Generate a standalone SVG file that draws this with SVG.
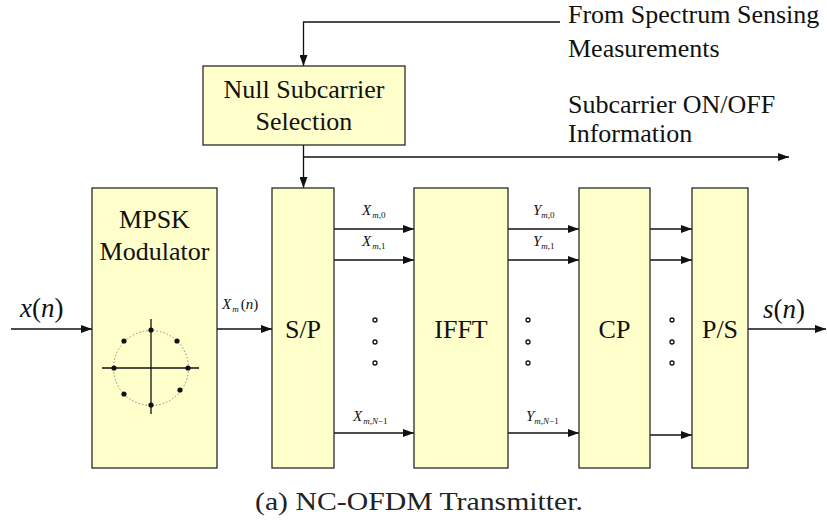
<svg xmlns="http://www.w3.org/2000/svg" width="827" height="529" viewBox="0 0 827 529">
<style>
.box{fill:#FFFFCC;stroke:#2a2a2a;stroke-width:1.3}
.sh{fill:none;stroke:#9a9a9a;stroke-width:1.2}
.t{font-family:"Liberation Serif","Times New Roman",serif;font-size:26px;fill:#111}
.c{text-anchor:middle}
.m{font-family:"Liberation Serif","Times New Roman",serif;font-style:italic;fill:#111}
.ln{fill:none;stroke:#111;stroke-width:1.3}
.dot{fill:#fff;stroke:#111;stroke-width:1.3}
.cap{font-family:"Liberation Serif","Times New Roman",serif;font-size:26px;fill:#222}
</style>
<defs>
<marker id="ah" markerUnits="userSpaceOnUse" markerWidth="12" markerHeight="8" refX="11" refY="4" orient="auto">
<path d="M0,0 L11,4 L0,8 z" fill="#111"/>
</marker>
</defs>

<g id="connectors">
<polyline class="ln" points="560,22 303.5,22 303.5,66" marker-end="url(#ah)"/>
<line class="ln" x1="303.5" y1="145" x2="303.5" y2="188" marker-end="url(#ah)"/>
<line class="ln" x1="303.5" y1="157" x2="789" y2="157" marker-end="url(#ah)"/>
<line class="ln" x1="11" y1="329" x2="92" y2="329" marker-end="url(#ah)"/>
<line class="ln" x1="217" y1="329" x2="272" y2="329" marker-end="url(#ah)"/>
<line class="ln" x1="334" y1="229" x2="414" y2="229" marker-end="url(#ah)"/>
<line class="ln" x1="334" y1="260" x2="414" y2="260" marker-end="url(#ah)"/>
<line class="ln" x1="334" y1="433" x2="414" y2="433" marker-end="url(#ah)"/>
<line class="ln" x1="508" y1="229" x2="579" y2="229" marker-end="url(#ah)"/>
<line class="ln" x1="508" y1="260" x2="579" y2="260" marker-end="url(#ah)"/>
<line class="ln" x1="508" y1="433" x2="579" y2="433" marker-end="url(#ah)"/>
<line class="ln" x1="650" y1="229" x2="692" y2="229" marker-end="url(#ah)"/>
<line class="ln" x1="650" y1="260" x2="692" y2="260" marker-end="url(#ah)"/>
<line class="ln" x1="650" y1="435" x2="692" y2="435" marker-end="url(#ah)"/>
<line class="ln" x1="748" y1="329" x2="826" y2="329" marker-end="url(#ah)"/>
</g>

<g id="null-subcarrier">
<rect class="box" x="203" y="66" width="202" height="79"/>
<text class="t c" x="304" y="98">Null Subcarrier</text>
<text class="t c" x="304" y="130">Selection</text>
</g>

<g id="mpsk">
<rect class="box" x="92" y="188" width="125" height="280"/>
<text class="t c" x="154.5" y="228">MPSK</text>
<text class="t c" x="154.5" y="260">Modulator</text>
<circle cx="151" cy="368" r="37.5" fill="none" stroke="#888" stroke-width="1" stroke-dasharray="1.5,2"/>
<line class="ln" x1="102" y1="368" x2="199" y2="368"/>
<line class="ln" x1="151" y1="319" x2="151" y2="414"/>
<g fill="#111">
<circle cx="151" cy="330" r="2.6"/>
<circle cx="151" cy="405" r="2.6"/>
<circle cx="114" cy="368" r="2.6"/>
<circle cx="188" cy="368" r="2.6"/>
<circle cx="124" cy="341" r="2.6"/>
<circle cx="177" cy="341" r="2.6"/>
<circle cx="124" cy="394" r="2.6"/>
<circle cx="180" cy="390" r="2.6"/>
</g>
</g>

<g id="sp">
<rect class="box" x="272" y="188" width="62" height="280"/>
<text class="t c" x="303" y="338">S/P</text>
</g>

<g id="ifft">
<rect class="box" x="414" y="188" width="94" height="280"/>
<text class="t c" x="461" y="338">IFFT</text>
</g>

<g id="cp">
<rect class="box" x="579" y="188" width="71" height="280"/>
<text class="t c" x="614.5" y="338">CP</text>
</g>

<g id="ps">
<rect class="box" x="692" y="188" width="56" height="280"/>
<text class="t c" x="720" y="338">P/S</text>
</g>

<g id="labels">
<text class="t" x="568" y="23">From Spectrum Sensing</text>
<text class="t" x="568" y="57">Measurements</text>
<text class="t" x="568" y="113">Subcarrier ON/OFF</text>
<text class="t" x="568" y="142">Information</text>

<text class="m" x="20" y="317" font-size="27">x<tspan font-style="normal">(</tspan>n<tspan font-style="normal">)</tspan></text>
<text class="m" x="763" y="318" font-size="27">s<tspan font-style="normal">(</tspan>n<tspan font-style="normal">)</tspan></text>
<text class="m" x="222" y="309" font-size="15">X<tspan font-size="9" dy="3" dx="1">m</tspan><tspan dy="-3" dx="2" font-style="normal">(</tspan>n<tspan font-style="normal">)</tspan></text>

<text class="m" x="362" y="215" font-size="15">X<tspan font-size="9" dy="3" dx="1">m<tspan font-style="normal">,0</tspan></tspan></text>
<text class="m" x="362" y="246" font-size="15">X<tspan font-size="9" dy="3" dx="1">m<tspan font-style="normal">,1</tspan></tspan></text>
<text class="m" x="353" y="421" font-size="15">X<tspan font-size="9" dy="3" dx="1">m<tspan font-style="normal">,</tspan>N<tspan font-style="normal">−1</tspan></tspan></text>

<text class="m" x="533" y="215" font-size="15">Y<tspan font-size="9" dy="3" dx="0">m<tspan font-style="normal">,0</tspan></tspan></text>
<text class="m" x="533" y="246" font-size="15">Y<tspan font-size="9" dy="3" dx="0">m<tspan font-style="normal">,1</tspan></tspan></text>
<text class="m" x="526" y="421" font-size="15">Y<tspan font-size="9" dy="3" dx="0">m<tspan font-style="normal">,</tspan>N<tspan font-style="normal">−1</tspan></tspan></text>
</g>

<g id="dots">
<circle class="dot" cx="375" cy="320" r="2"/>
<circle class="dot" cx="375" cy="342" r="2"/>
<circle class="dot" cx="375" cy="363" r="2"/>
<circle class="dot" cx="528" cy="320" r="2"/>
<circle class="dot" cx="528" cy="342" r="2"/>
<circle class="dot" cx="528" cy="363" r="2"/>
<circle class="dot" cx="672" cy="320" r="2"/>
<circle class="dot" cx="672" cy="342" r="2"/>
<circle class="dot" cx="672" cy="363" r="2"/>
</g>

<text class="cap c" x="419" y="510" textLength="328" lengthAdjust="spacingAndGlyphs">(a) NC-OFDM Transmitter.</text>
</svg>
